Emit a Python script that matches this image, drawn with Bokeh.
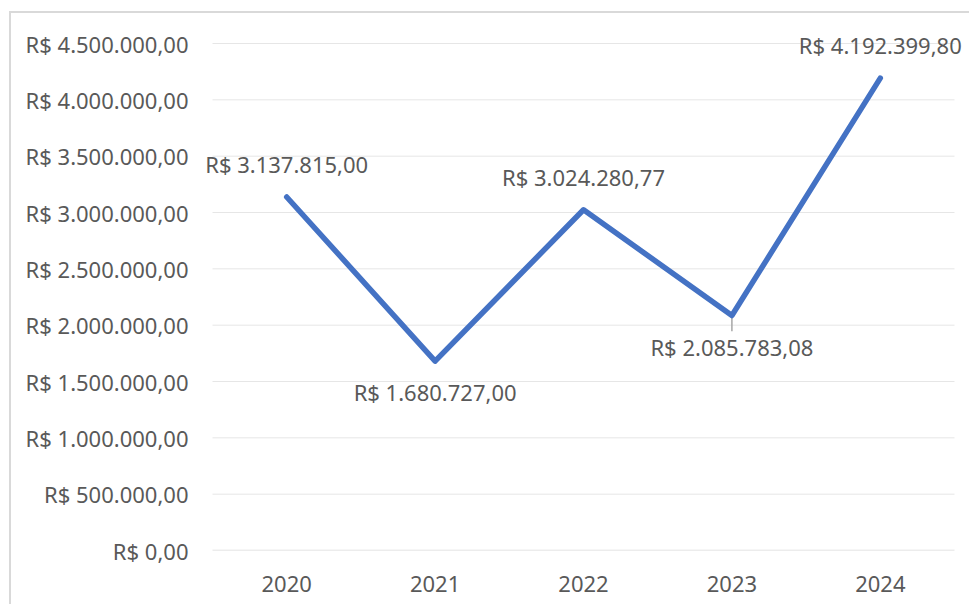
from bokeh.plotting import figure
from bokeh.models import ColumnDataSource, FixedTicker, CustomJSTickFormatter, Label, Range1d
from bokeh.embed import file_html
from bokeh.resources import INLINE

years = ["2020", "2021", "2022", "2023", "2024"]
values = [3137815.00, 1680727.00, 3024280.77, 2085783.08, 4192399.80]
label_pos = ["above", "below", "above", "below", "above"]
y_ticks = [0, 500000, 1000000, 1500000, 2000000, 2500000, 3000000, 3500000, 4000000, 4500000]


def brl(v):
    s = f"{v:,.2f}"
    s = s.replace(",", "X").replace(".", ",").replace("X", ".")
    return "R$ " + s


xs = list(range(len(years)))
src = ColumnDataSource(dict(x=xs, y=values))

FONT = "Noto Sans"
TXT = "#595959"
FS = "22px"

# layout (canvas pixels)
W, H = 960, 593
PLOT_L, PLOT_R, PLOT_T, PLOT_B = 201, 943, 30, 537   # visible plot area
FR_L, FR_T = 189, 18                                  # frame (wider so labels are not clipped)
ymin, ymax = 0, max(y_ticks)
xmin, xmax = -0.5, len(years) - 0.5
xpx = (PLOT_R - PLOT_L) / (xmax - xmin)
ypx = (PLOT_B - PLOT_T) / (ymax - ymin)

p = figure(width=W, height=H, output_backend="svg", toolbar_location=None,
           x_range=Range1d(xmin - (PLOT_L - FR_L) / xpx, xmax + (W - PLOT_R) / xpx),
           y_range=Range1d(ymin, ymax + (PLOT_T - FR_T) / ypx),
           min_border_left=FR_L, min_border_right=0, min_border_top=FR_T,
           min_border_bottom=H - PLOT_B)
p.styles = {"border-top": "2px solid #d9d9d9", "border-left": "2px solid #d9d9d9",
            "margin-top": "11px", "margin-left": "9px"}
p.outline_line_color = None
p.background_fill_color = "white"
p.border_fill_color = "white"

p.xgrid.visible = False
p.ygrid.visible = False
# horizontal gridlines limited to the plot area
p.segment(x0=[xmin] * (len(y_ticks) - 1), x1=[xmax] * (len(y_ticks) - 1),
          y0=y_ticks[1:], y1=y_ticks[1:], line_color="#e6e6e6", line_width=1)
# category axis line
p.segment(x0=[xmin], x1=[xmax], y0=[ymin], y1=[ymin], line_color="#d9d9d9", line_width=1.5)

p.yaxis.ticker = FixedTicker(ticks=y_ticks)
p.yaxis.formatter = CustomJSTickFormatter(code="""
const s = tick.toFixed(2);
const parts = s.split('.');
const ip = parts[0].replace(/\\B(?=(\\d{3})+(?!\\d))/g, '.');
return 'R$ ' + ip + ',' + parts[1];
""")
p.yaxis.axis_line_color = None
p.yaxis.major_tick_line_color = None
p.yaxis.minor_tick_line_color = None
p.yaxis.major_label_standoff = 6
p.yaxis.major_label_text_font = FONT
p.yaxis.major_label_text_font_size = FS
p.yaxis.major_label_text_color = TXT

p.xaxis.ticker = FixedTicker(ticks=xs)
p.xaxis.major_label_overrides = {i: y for i, y in enumerate(years)}
p.xaxis.axis_line_color = None
p.xaxis.major_tick_line_color = None
p.xaxis.minor_tick_line_color = None
p.xaxis.major_label_standoff = 19
p.xaxis.major_label_text_font = FONT
p.xaxis.major_label_text_font_size = FS
p.xaxis.major_label_text_color = TXT

# leader line for the 2023 label
i = 3
p.segment(x0=[xs[i]], y0=[values[i]], x1=[xs[i]], y1=[values[i] - 140000],
          line_color="#a6a6a6", line_width=1.5)

p.line("x", "y", source=src, line_color="#4472C4", line_width=5.5,
       line_join="round", line_cap="round")

for xv, yv, pos in zip(xs, values, label_pos):
    p.add_layout(Label(x=xv, y=yv, text=brl(yv),
                       y_offset=33 if pos == "above" else -31,
                       text_align="center", text_baseline="middle",
                       text_font=FONT, text_font_size=FS, text_color=TXT))

open("out.html", "w").write(file_html(p, INLINE))
